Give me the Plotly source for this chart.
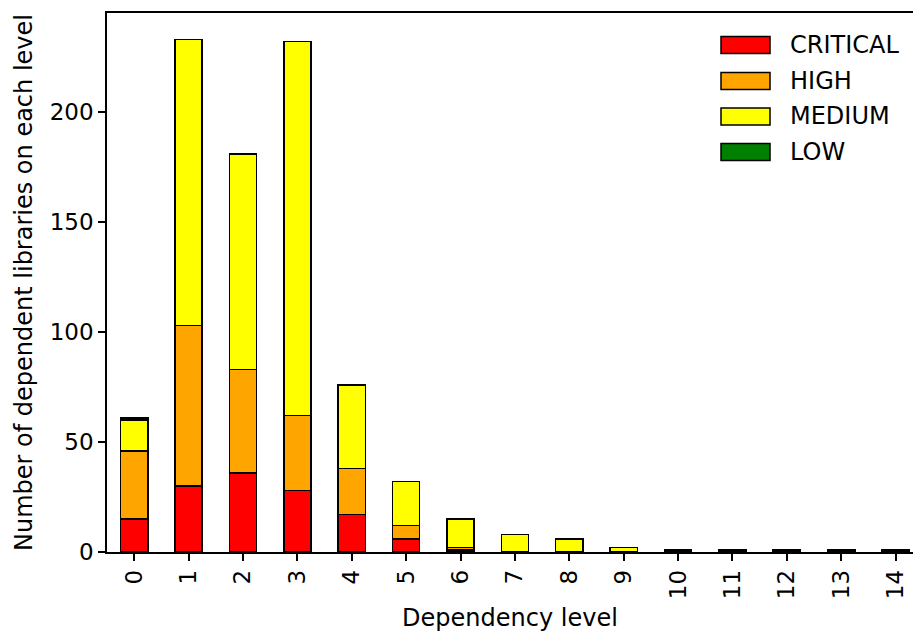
import plotly.graph_objects as go

# Dependency levels and number of dependent libraries per severity
levels = list(range(15))
critical = [15, 30, 36, 28, 17, 6, 1, 0, 0, 0, 0, 0, 0, 0, 0]
high = [31, 73, 47, 34, 21, 6, 1, 0, 0, 0, 0, 0, 0, 0, 0]
medium = [14, 130, 98, 170, 38, 20, 13, 8, 6, 2, 0, 0, 0, 0, 0]
low = [1, 0, 0, 0, 0, 0, 0, 0, 0, 0, 1, 1, 1, 1, 1]

series = [
    ("CRITICAL", critical, "#ff0000"),
    ("HIGH", high, "#ffa500"),
    ("MEDIUM", medium, "#ffff00"),
    ("LOW", low, "#008000"),
]

FONT = "DejaVu Sans"

fig = go.Figure()
for name, vals, color in series:
    fig.add_trace(go.Bar(
        x=levels,
        y=[v if v else None for v in vals],
        name=name,
        width=0.5,
        marker=dict(color=color, line=dict(color="black", width=1.5)),
        showlegend=False,
    ))

# Plot area geometry (pixels) used to place the custom legend
W, H = 913, 632
L, R, T, B = 107, 0, 13, 80
pw, ph = W - L - R, H - T - B


def px_x(x):
    return (x - L) / pw


def px_y(y):
    return (H - B - y) / ph


shapes = []
annotations = []
legend_rows = [45, 81, 116.5, 152]
for (name, _, color), cy in zip(series, legend_rows):
    shapes.append(dict(
        type="rect", xref="paper", yref="paper",
        x0=px_x(721), x1=px_x(770), y0=px_y(cy + 8.5), y1=px_y(cy - 8.5),
        fillcolor=color, line=dict(color="black", width=1.5),
    ))
    annotations.append(dict(
        xref="paper", yref="paper", x=px_x(788), y=px_y(cy),
        xanchor="left", yanchor="middle", text=name, showarrow=False,
        font=dict(family=FONT, size=24, color="black"),
    ))

fig.update_layout(
    barmode="stack",
    width=W, height=H,
    margin=dict(l=L, r=R, t=T, b=B),
    paper_bgcolor="white",
    plot_bgcolor="white",
    font=dict(family=FONT, size=23, color="black"),
    shapes=shapes,
    annotations=annotations,
    xaxis=dict(
        range=[-0.5, 14.32],
        tickmode="array", tickvals=levels, ticktext=[str(v) for v in levels],
        tickangle=-90,
        ticks="outside", ticklen=7, tickwidth=1.5, tickcolor="black",
        showline=True, linecolor="black", linewidth=1.5, mirror=True,
        showgrid=False, zeroline=False,
        title=dict(text="Dependency level", font=dict(size=24), standoff=14),
        tickfont=dict(size=23),
    ),
    yaxis=dict(
        range=[0, 245],
        tickvals=[0, 50, 100, 150, 200],
        ticks="outside", ticklen=7, tickwidth=1.5, tickcolor="black",
        showline=True, linecolor="black", linewidth=1.5,
        showgrid=False, zeroline=False,
        title=dict(text="Number of dependent libraries on each level", font=dict(size=24), standoff=10),
        tickfont=dict(size=23),
    ),
)

fig.write_html("out.html")
